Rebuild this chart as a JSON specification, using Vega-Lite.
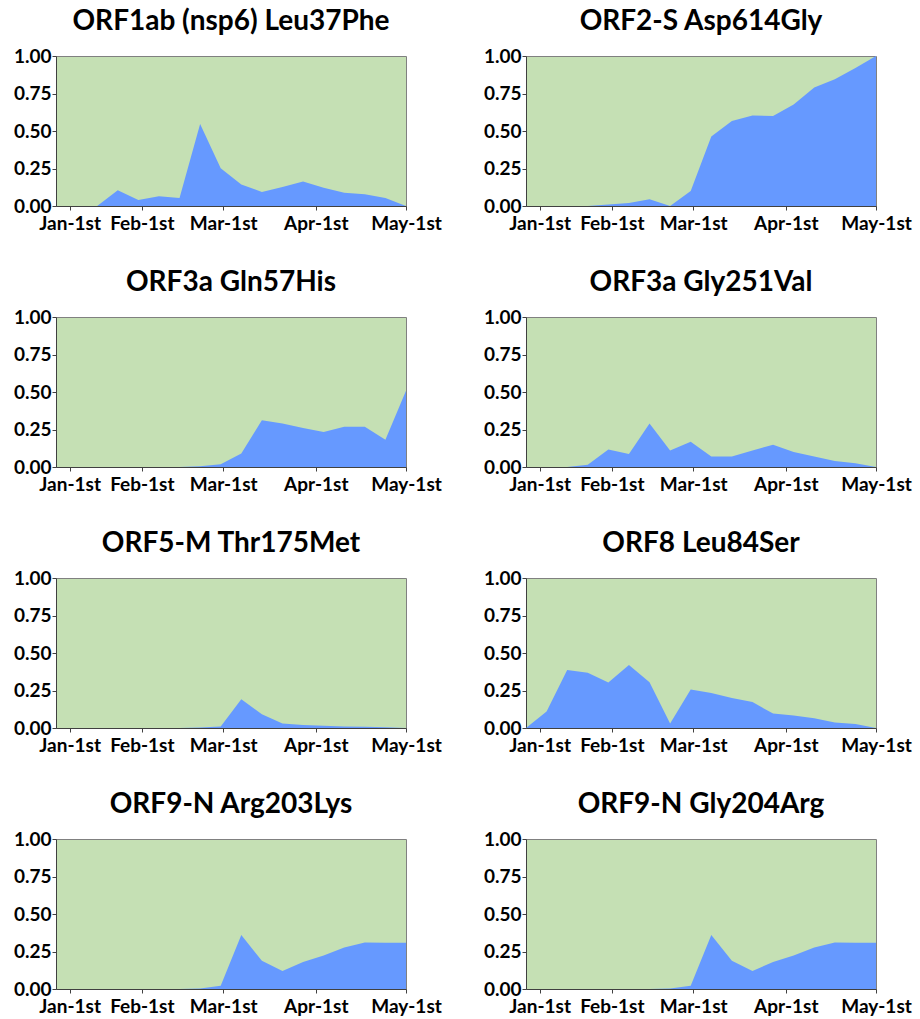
{
  "$schema": "https://vega.github.io/schema/vega-lite/v6.json",
  "padding": {"left": 12, "top": 7, "right": 5, "bottom": 5},
  "datasets": {
    "src": [
      {"panel": "ORF1ab (nsp6) Leu37Phe", "week": 0, "freq": 0},
      {"panel": "ORF1ab (nsp6) Leu37Phe", "week": 1, "freq": 0},
      {"panel": "ORF1ab (nsp6) Leu37Phe", "week": 2, "freq": 0},
      {"panel": "ORF1ab (nsp6) Leu37Phe", "week": 3, "freq": 0.105},
      {"panel": "ORF1ab (nsp6) Leu37Phe", "week": 4, "freq": 0.04},
      {"panel": "ORF1ab (nsp6) Leu37Phe", "week": 5, "freq": 0.065},
      {"panel": "ORF1ab (nsp6) Leu37Phe", "week": 6, "freq": 0.053},
      {"panel": "ORF1ab (nsp6) Leu37Phe", "week": 7, "freq": 0.546},
      {"panel": "ORF1ab (nsp6) Leu37Phe", "week": 8, "freq": 0.252},
      {"panel": "ORF1ab (nsp6) Leu37Phe", "week": 9, "freq": 0.143},
      {"panel": "ORF1ab (nsp6) Leu37Phe", "week": 10, "freq": 0.094},
      {"panel": "ORF1ab (nsp6) Leu37Phe", "week": 11, "freq": 0.127},
      {"panel": "ORF1ab (nsp6) Leu37Phe", "week": 12, "freq": 0.163},
      {"panel": "ORF1ab (nsp6) Leu37Phe", "week": 13, "freq": 0.122},
      {"panel": "ORF1ab (nsp6) Leu37Phe", "week": 14, "freq": 0.089},
      {"panel": "ORF1ab (nsp6) Leu37Phe", "week": 15, "freq": 0.078},
      {"panel": "ORF1ab (nsp6) Leu37Phe", "week": 16, "freq": 0.053},
      {"panel": "ORF1ab (nsp6) Leu37Phe", "week": 17, "freq": 0},
      {"panel": "ORF2-S Asp614Gly", "week": 0, "freq": 0},
      {"panel": "ORF2-S Asp614Gly", "week": 1, "freq": 0},
      {"panel": "ORF2-S Asp614Gly", "week": 2, "freq": 0},
      {"panel": "ORF2-S Asp614Gly", "week": 3, "freq": 0},
      {"panel": "ORF2-S Asp614Gly", "week": 4, "freq": 0.01},
      {"panel": "ORF2-S Asp614Gly", "week": 5, "freq": 0.02},
      {"panel": "ORF2-S Asp614Gly", "week": 6, "freq": 0.045},
      {"panel": "ORF2-S Asp614Gly", "week": 7, "freq": 0},
      {"panel": "ORF2-S Asp614Gly", "week": 8, "freq": 0.1},
      {"panel": "ORF2-S Asp614Gly", "week": 9, "freq": 0.463},
      {"panel": "ORF2-S Asp614Gly", "week": 10, "freq": 0.566},
      {"panel": "ORF2-S Asp614Gly", "week": 11, "freq": 0.604},
      {"panel": "ORF2-S Asp614Gly", "week": 12, "freq": 0.6},
      {"panel": "ORF2-S Asp614Gly", "week": 13, "freq": 0.677},
      {"panel": "ORF2-S Asp614Gly", "week": 14, "freq": 0.79},
      {"panel": "ORF2-S Asp614Gly", "week": 15, "freq": 0.845},
      {"panel": "ORF2-S Asp614Gly", "week": 16, "freq": 0.92},
      {"panel": "ORF2-S Asp614Gly", "week": 17, "freq": 1.0},
      {"panel": "ORF3a Gln57His", "week": 0, "freq": 0},
      {"panel": "ORF3a Gln57His", "week": 1, "freq": 0},
      {"panel": "ORF3a Gln57His", "week": 2, "freq": 0},
      {"panel": "ORF3a Gln57His", "week": 3, "freq": 0},
      {"panel": "ORF3a Gln57His", "week": 4, "freq": 0},
      {"panel": "ORF3a Gln57His", "week": 5, "freq": 0},
      {"panel": "ORF3a Gln57His", "week": 6, "freq": 0},
      {"panel": "ORF3a Gln57His", "week": 7, "freq": 0.005},
      {"panel": "ORF3a Gln57His", "week": 8, "freq": 0.018},
      {"panel": "ORF3a Gln57His", "week": 9, "freq": 0.09},
      {"panel": "ORF3a Gln57His", "week": 10, "freq": 0.311},
      {"panel": "ORF3a Gln57His", "week": 11, "freq": 0.29},
      {"panel": "ORF3a Gln57His", "week": 12, "freq": 0.26},
      {"panel": "ORF3a Gln57His", "week": 13, "freq": 0.233},
      {"panel": "ORF3a Gln57His", "week": 14, "freq": 0.268},
      {"panel": "ORF3a Gln57His", "week": 15, "freq": 0.268},
      {"panel": "ORF3a Gln57His", "week": 16, "freq": 0.181},
      {"panel": "ORF3a Gln57His", "week": 17, "freq": 0.508},
      {"panel": "ORF3a Gly251Val", "week": 0, "freq": 0},
      {"panel": "ORF3a Gly251Val", "week": 1, "freq": 0},
      {"panel": "ORF3a Gly251Val", "week": 2, "freq": 0},
      {"panel": "ORF3a Gly251Val", "week": 3, "freq": 0.015},
      {"panel": "ORF3a Gly251Val", "week": 4, "freq": 0.116},
      {"panel": "ORF3a Gly251Val", "week": 5, "freq": 0.087},
      {"panel": "ORF3a Gly251Val", "week": 6, "freq": 0.29},
      {"panel": "ORF3a Gly251Val", "week": 7, "freq": 0.11},
      {"panel": "ORF3a Gly251Val", "week": 8, "freq": 0.168},
      {"panel": "ORF3a Gly251Val", "week": 9, "freq": 0.07},
      {"panel": "ORF3a Gly251Val", "week": 10, "freq": 0.07},
      {"panel": "ORF3a Gly251Val", "week": 11, "freq": 0.11},
      {"panel": "ORF3a Gly251Val", "week": 12, "freq": 0.148},
      {"panel": "ORF3a Gly251Val", "week": 13, "freq": 0.1},
      {"panel": "ORF3a Gly251Val", "week": 14, "freq": 0.07},
      {"panel": "ORF3a Gly251Val", "week": 15, "freq": 0.04},
      {"panel": "ORF3a Gly251Val", "week": 16, "freq": 0.025},
      {"panel": "ORF3a Gly251Val", "week": 17, "freq": 0},
      {"panel": "ORF5-M Thr175Met", "week": 0, "freq": 0},
      {"panel": "ORF5-M Thr175Met", "week": 1, "freq": 0},
      {"panel": "ORF5-M Thr175Met", "week": 2, "freq": 0},
      {"panel": "ORF5-M Thr175Met", "week": 3, "freq": 0},
      {"panel": "ORF5-M Thr175Met", "week": 4, "freq": 0},
      {"panel": "ORF5-M Thr175Met", "week": 5, "freq": 0},
      {"panel": "ORF5-M Thr175Met", "week": 6, "freq": 0},
      {"panel": "ORF5-M Thr175Met", "week": 7, "freq": 0.003},
      {"panel": "ORF5-M Thr175Met", "week": 8, "freq": 0.01},
      {"panel": "ORF5-M Thr175Met", "week": 9, "freq": 0.192},
      {"panel": "ORF5-M Thr175Met", "week": 10, "freq": 0.092},
      {"panel": "ORF5-M Thr175Met", "week": 11, "freq": 0.03},
      {"panel": "ORF5-M Thr175Met", "week": 12, "freq": 0.02},
      {"panel": "ORF5-M Thr175Met", "week": 13, "freq": 0.015},
      {"panel": "ORF5-M Thr175Met", "week": 14, "freq": 0.01},
      {"panel": "ORF5-M Thr175Met", "week": 15, "freq": 0.008},
      {"panel": "ORF5-M Thr175Met", "week": 16, "freq": 0.005},
      {"panel": "ORF5-M Thr175Met", "week": 17, "freq": 0},
      {"panel": "ORF8 Leu84Ser", "week": 0, "freq": 0},
      {"panel": "ORF8 Leu84Ser", "week": 1, "freq": 0.11},
      {"panel": "ORF8 Leu84Ser", "week": 2, "freq": 0.386},
      {"panel": "ORF8 Leu84Ser", "week": 3, "freq": 0.368},
      {"panel": "ORF8 Leu84Ser", "week": 4, "freq": 0.303},
      {"panel": "ORF8 Leu84Ser", "week": 5, "freq": 0.42},
      {"panel": "ORF8 Leu84Ser", "week": 6, "freq": 0.305},
      {"panel": "ORF8 Leu84Ser", "week": 7, "freq": 0.03},
      {"panel": "ORF8 Leu84Ser", "week": 8, "freq": 0.256},
      {"panel": "ORF8 Leu84Ser", "week": 9, "freq": 0.233},
      {"panel": "ORF8 Leu84Ser", "week": 10, "freq": 0.2},
      {"panel": "ORF8 Leu84Ser", "week": 11, "freq": 0.173},
      {"panel": "ORF8 Leu84Ser", "week": 12, "freq": 0.096},
      {"panel": "ORF8 Leu84Ser", "week": 13, "freq": 0.083},
      {"panel": "ORF8 Leu84Ser", "week": 14, "freq": 0.065},
      {"panel": "ORF8 Leu84Ser", "week": 15, "freq": 0.036},
      {"panel": "ORF8 Leu84Ser", "week": 16, "freq": 0.027},
      {"panel": "ORF8 Leu84Ser", "week": 17, "freq": 0},
      {"panel": "ORF9-N Arg203Lys", "week": 0, "freq": 0},
      {"panel": "ORF9-N Arg203Lys", "week": 1, "freq": 0},
      {"panel": "ORF9-N Arg203Lys", "week": 2, "freq": 0},
      {"panel": "ORF9-N Arg203Lys", "week": 3, "freq": 0},
      {"panel": "ORF9-N Arg203Lys", "week": 4, "freq": 0},
      {"panel": "ORF9-N Arg203Lys", "week": 5, "freq": 0},
      {"panel": "ORF9-N Arg203Lys", "week": 6, "freq": 0},
      {"panel": "ORF9-N Arg203Lys", "week": 7, "freq": 0.003},
      {"panel": "ORF9-N Arg203Lys", "week": 8, "freq": 0.022},
      {"panel": "ORF9-N Arg203Lys", "week": 9, "freq": 0.36},
      {"panel": "ORF9-N Arg203Lys", "week": 10, "freq": 0.188},
      {"panel": "ORF9-N Arg203Lys", "week": 11, "freq": 0.12},
      {"panel": "ORF9-N Arg203Lys", "week": 12, "freq": 0.18},
      {"panel": "ORF9-N Arg203Lys", "week": 13, "freq": 0.223},
      {"panel": "ORF9-N Arg203Lys", "week": 14, "freq": 0.277},
      {"panel": "ORF9-N Arg203Lys", "week": 15, "freq": 0.31},
      {"panel": "ORF9-N Arg203Lys", "week": 16, "freq": 0.308},
      {"panel": "ORF9-N Arg203Lys", "week": 17, "freq": 0.308},
      {"panel": "ORF9-N Gly204Arg", "week": 0, "freq": 0},
      {"panel": "ORF9-N Gly204Arg", "week": 1, "freq": 0},
      {"panel": "ORF9-N Gly204Arg", "week": 2, "freq": 0},
      {"panel": "ORF9-N Gly204Arg", "week": 3, "freq": 0},
      {"panel": "ORF9-N Gly204Arg", "week": 4, "freq": 0},
      {"panel": "ORF9-N Gly204Arg", "week": 5, "freq": 0},
      {"panel": "ORF9-N Gly204Arg", "week": 6, "freq": 0},
      {"panel": "ORF9-N Gly204Arg", "week": 7, "freq": 0.003},
      {"panel": "ORF9-N Gly204Arg", "week": 8, "freq": 0.022},
      {"panel": "ORF9-N Gly204Arg", "week": 9, "freq": 0.36},
      {"panel": "ORF9-N Gly204Arg", "week": 10, "freq": 0.188},
      {"panel": "ORF9-N Gly204Arg", "week": 11, "freq": 0.12},
      {"panel": "ORF9-N Gly204Arg", "week": 12, "freq": 0.18},
      {"panel": "ORF9-N Gly204Arg", "week": 13, "freq": 0.223},
      {"panel": "ORF9-N Gly204Arg", "week": 14, "freq": 0.277},
      {"panel": "ORF9-N Gly204Arg", "week": 15, "freq": 0.31},
      {"panel": "ORF9-N Gly204Arg", "week": 16, "freq": 0.308},
      {"panel": "ORF9-N Gly204Arg", "week": 17, "freq": 0.308}
    ]
  },
  "data": {"name": "src"},
  "facet": {
    "field": "panel",
    "type": "nominal",
    "sort": ["ORF1ab (nsp6) Leu37Phe", "ORF2-S Asp614Gly", "ORF3a Gln57His", "ORF3a Gly251Val", "ORF5-M Thr175Met", "ORF8 Leu84Ser", "ORF9-N Arg203Lys", "ORF9-N Gly204Arg"],
    "header": {
      "title": null,
      "labelFont": "Lato",
      "labelFontSize": 28,
      "labelFontWeight": "bold",
      "labelColor": "#000000",
      "labelPadding": 11
    }
  },
  "columns": 2,
  "spacing": {"row": 34, "column": 40},
  "spec": {
    "width": 350,
    "height": 150,
    "mark": {"type": "area", "color": "#6699FF", "interpolate": "linear", "opacity": 1},
    "encoding": {
      "x": {
        "field": "week",
        "type": "quantitative",
        "title": null,
        "scale": {"domain": [0, 17], "nice": false, "zero": false},
        "axis": {
          "values": [0.66, 4.17, 8.12, 12.62, 17],
          "labelExpr": "datum.value < 2 ? 'Jan-1st' : datum.value < 6 ? 'Feb-1st' : datum.value < 10 ? 'Mar-1st' : datum.value < 14 ? 'Apr-1st' : 'May-1st'",
          "grid": false,
          "domainColor": "#404040",
          "domainWidth": 1,
          "tickColor": "#404040",
          "tickSize": 4,
          "labelFont": "Lato",
          "labelFontSize": 19,
          "labelFontWeight": "bold",
          "labelColor": "#000000",
          "labelPadding": 4,
          "labelOverlap": false,
          "labelFlush": false,
          "labelBound": false
        }
      },
      "y": {
        "field": "freq",
        "type": "quantitative",
        "title": null,
        "scale": {"domain": [0, 1], "nice": false},
        "axis": {
          "values": [0, 0.25, 0.5, 0.75, 1],
          "format": ".2f",
          "grid": false,
          "domainColor": "#404040",
          "tickColor": "#404040",
          "tickSize": 4,
          "labelFont": "Lato",
          "labelFontSize": 19,
          "labelFontWeight": "bold",
          "labelColor": "#000000",
          "labelPadding": 1,
          "labelOverlap": false,
          "labelFlush": false
        }
      }
    }
  },
  "resolve": {"axis": {"x": "independent", "y": "independent"}},
  "config": {
    "view": {"fill": "#C5E0B4", "stroke": "#808080", "strokeWidth": 1}
  }
}
